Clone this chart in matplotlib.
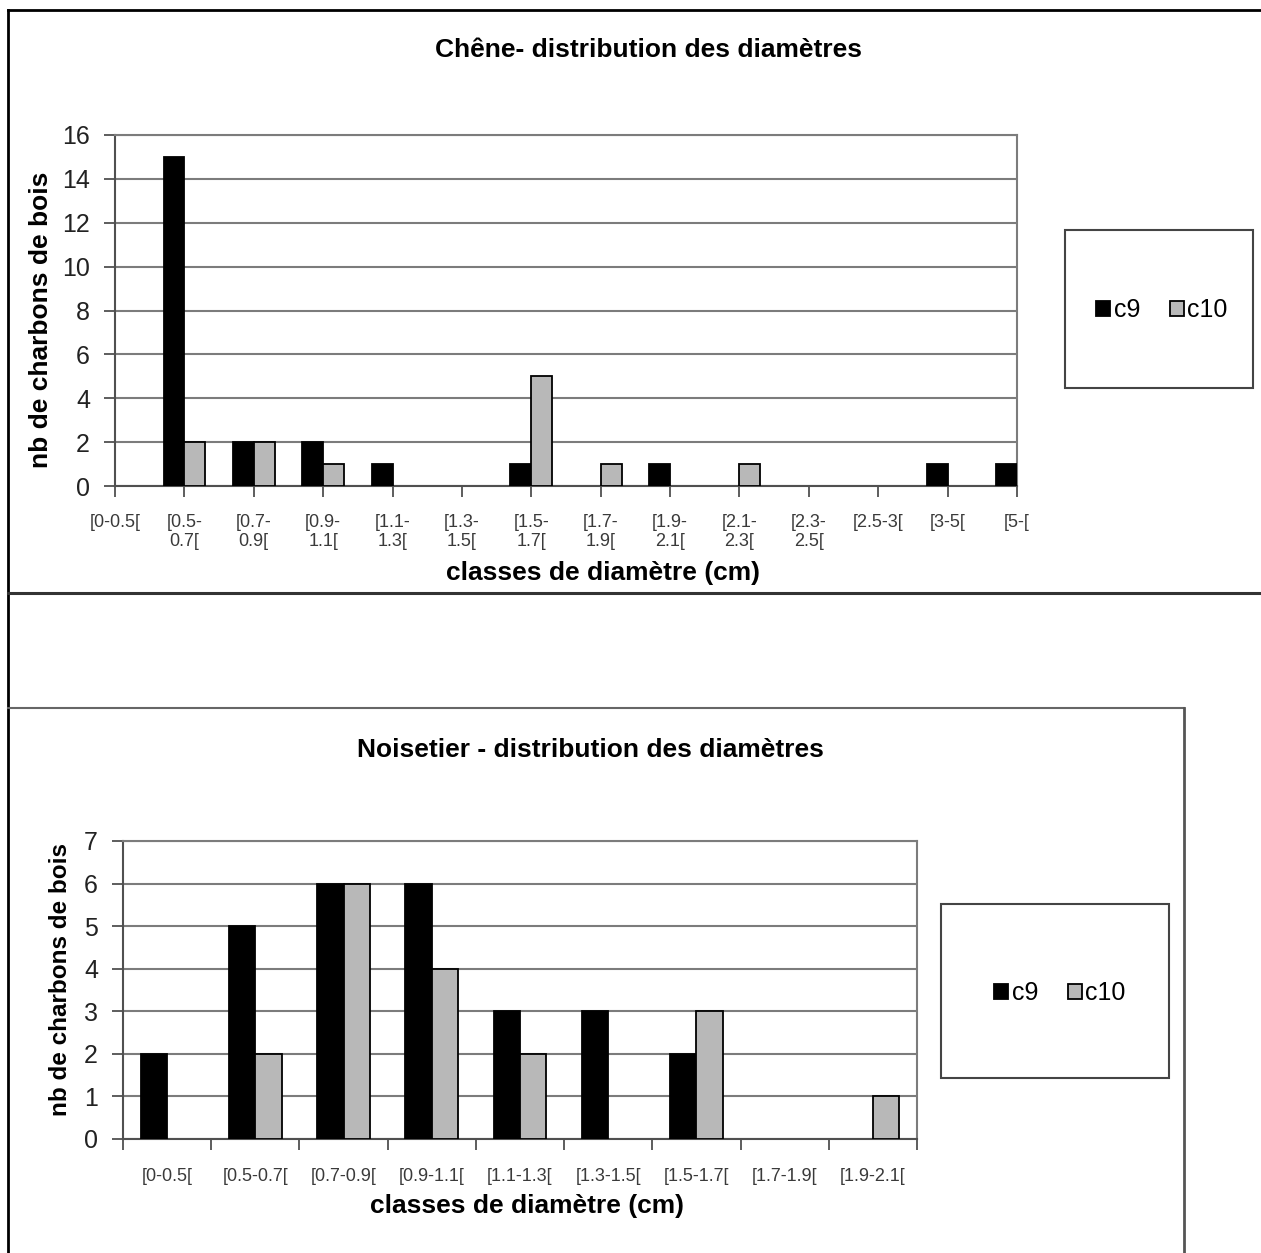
import numpy as np
import matplotlib
matplotlib.use("Agg")
import matplotlib.pyplot as plt
from matplotlib.lines import Line2D
from matplotlib.patches import Rectangle, Patch

plt.rcParams['font.family'] = ['Liberation Sans', 'DejaVu Sans']

# --- data ---
chene_classes = ["[0-0.5[", "[0.5-\n0.7[", "[0.7-\n0.9[", "[0.9-\n1.1[", "[1.1-\n1.3[",
                 "[1.3-\n1.5[", "[1.5-\n1.7[", "[1.7-\n1.9[", "[1.9-\n2.1[", "[2.1-\n2.3[",
                 "[2.3-\n2.5[", "[2.5-3[", "[3-5[", "[5-["]
chene_c9 = [0, 15, 2, 2, 1, 0, 1, 0, 1, 0, 0, 0, 1, 1]
chene_c10 = [0, 2, 2, 1, 0, 0, 5, 1, 0, 1, 0, 0, 0, 0]

noise_classes = ["[0-0.5[", "[0.5-0.7[", "[0.7-0.9[", "[0.9-1.1[", "[1.1-1.3[",
                 "[1.3-1.5[", "[1.5-1.7[", "[1.7-1.9[", "[1.9-2.1["]
noise_c9 = [2, 5, 6, 6, 3, 3, 2, 0, 0]
noise_c10 = [0, 2, 6, 4, 2, 0, 3, 0, 1]

W, H = 1261, 1253
fig = plt.figure(figsize=(W / 100, H / 100), dpi=100)


def fx(x):
    return x / W


def fy(y):
    return 1 - y / H


def add_ax(l, t, r, b):
    return fig.add_axes([fx(l), fy(b), (r - l) / W, (b - t) / H])


def line(x0, y0, x1, y1, color, lw):
    fig.add_artist(Line2D([fx(x0), fx(x1)], [fy(y0), fy(y1)], color=color, lw=lw,
                          transform=fig.transFigure))


GREY = "#b8b8b8"
GRID = "#7c7c7c"


def style_axes(ax, ymax):
    ax.set_ylim(0, ymax)
    ax.set_yticks(range(0, ymax + 1, 2 if ymax > 8 else 1))
    ax.yaxis.grid(True, color=GRID, lw=1.5, zorder=0)
    ax.set_axisbelow(True)
    for s in ["top", "right"]:
        ax.spines[s].set_color(GRID)
        ax.spines[s].set_linewidth(1.5)
    for s in ["left", "bottom"]:
        ax.spines[s].set_color("#505050")
        ax.spines[s].set_linewidth(1.5)
    ax.tick_params(axis="y", length=8, width=1.3, color="#505050", pad=10,
                   labelsize=18, labelcolor="#222222")


def draw_bars(ax, x, a, b):
    bars1 = ax.bar(x - 0.15, a, 0.3, color="black", edgecolor="black", lw=1.3, zorder=3)
    bars2 = ax.bar(x + 0.15, b, 0.3, color=GREY, edgecolor="black", lw=1.3, zorder=3)
    for bar in list(bars1) + list(bars2):
        if bar.get_height() == 0:
            bar.set_visible(False)


# --- top chart: Chene ---
ax1 = add_ax(115, 135, 1017, 486)
x1 = np.arange(len(chene_classes))
draw_bars(ax1, x1, chene_c9, chene_c10)
ax1.set_xlim(0, len(chene_classes) - 1)
style_axes(ax1, 16)
ax1.set_xticks(x1)
ax1.set_xticklabels(chene_classes, fontsize=13, color="#3a3a3a", linespacing=1.2)
ax1.tick_params(axis="x", length=8, width=1.3, color="#505050", pad=12)

fig.text(fx(649), fy(50), "Chêne- distribution des diamètres", ha="center", va="center",
         fontsize=19, fontweight="bold")
fig.text(fx(603), fy(573), "classes de diamètre (cm)", ha="center", va="center",
         fontsize=19, fontweight="bold")
fig.text(fx(41), fy(320), "nb de charbons de bois", ha="center", va="center",
         rotation=90, fontsize=19, fontweight="bold")

fig.add_artist(Rectangle((fx(1065), fy(388)), (1253 - 1065) / W, (388 - 230) / H,
                         transform=fig.transFigure, fill=False, ec="#444444", lw=1.5))
handles = [Patch(fc="black", ec="black", lw=1.3), Patch(fc=GREY, ec="black", lw=1.3)]
fig.legend(handles, ["c9", "c10"], loc="center", bbox_to_anchor=(fx(1162), fy(310)),
           ncol=2, frameon=False, fontsize=18, handlelength=0.55, handleheight=0.55,
           handletextpad=0.15, columnspacing=1.2, borderpad=0)

# --- bottom chart: Noisetier ---
ax2 = add_ax(123, 841, 917, 1139)
x2 = np.arange(len(noise_classes))
draw_bars(ax2, x2, noise_c9, noise_c10)
ax2.set_xlim(-0.5, len(noise_classes) - 0.5)
style_axes(ax2, 7)
ax2.set_xticks(x2)
ax2.set_xticklabels(noise_classes, fontsize=13, color="#3a3a3a")
ax2.set_xticks(np.arange(-0.5, len(noise_classes)), minor=True)
ax2.tick_params(axis="x", which="major", length=0, pad=21)
ax2.tick_params(axis="x", which="minor", length=8, width=1.3, color="#505050")

fig.text(fx(590), fy(750), "Noisetier - distribution des diamètres", ha="center", va="center",
         fontsize=19, fontweight="bold")
fig.text(fx(527), fy(1206), "classes de diamètre (cm)", ha="center", va="center",
         fontsize=19, fontweight="bold")
fig.text(fx(61), fy(980), "nb de charbons de bois", ha="center", va="center",
         rotation=90, fontsize=17.5, fontweight="bold")

fig.add_artist(Rectangle((fx(941), fy(1078)), (1169 - 941) / W, (1078 - 904) / H,
                         transform=fig.transFigure, fill=False, ec="#444444", lw=1.5))
fig.legend(handles, ["c9", "c10"], loc="center", bbox_to_anchor=(fx(1060), fy(993)),
           ncol=2, frameon=False, fontsize=18, handlelength=0.55, handleheight=0.55,
           handletextpad=0.15, columnspacing=1.2, borderpad=0)

# --- frames ---
line(8, 10, 1261, 10, "black", 2)
line(8, 10, 8, 1253, "black", 2)
line(8, 593, 1261, 593, "#333333", 2.2)
line(8, 708, 1184, 708, "#666666", 1.5)
line(1184, 708, 1184, 1253, "#555555", 2)

fig.savefig("out.png", dpi=100)
